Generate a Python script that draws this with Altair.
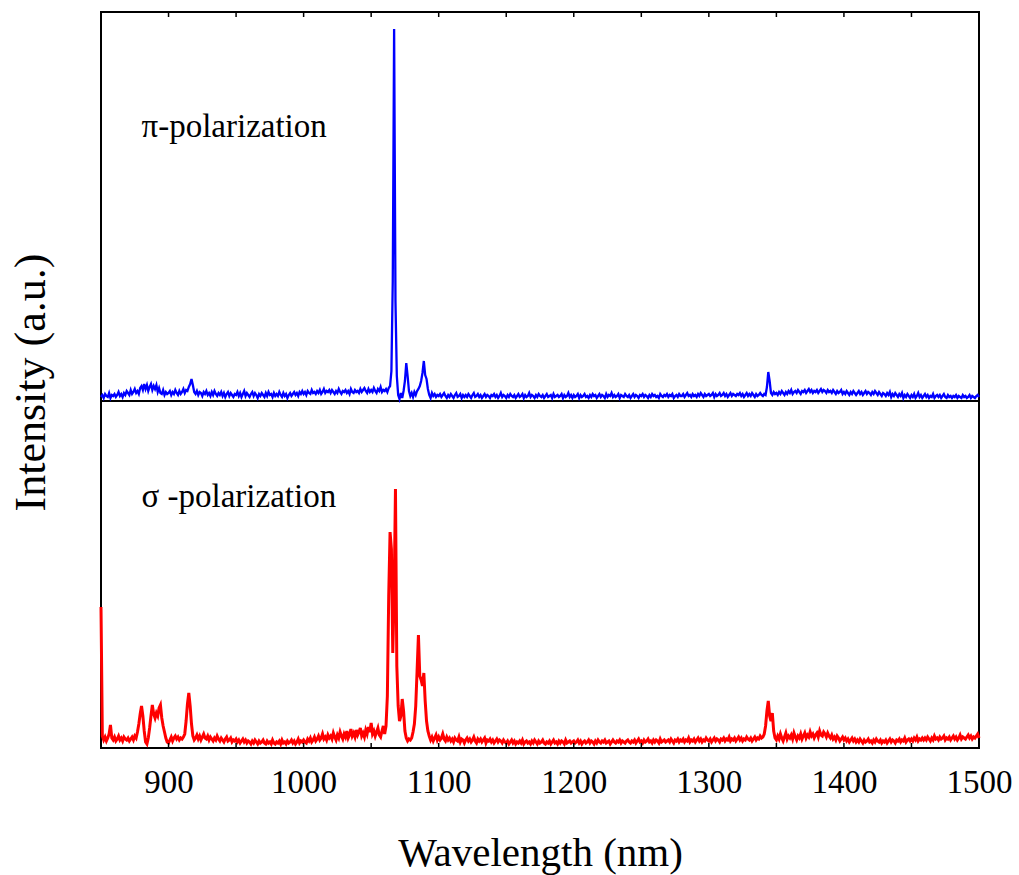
import altair as alt
import pandas as pd

# Wavelength sampling grid (nm)
wavelength = list(range(850, 1501))

# pi-polarization intensity (a.u.), one value per nm
pi_intensity = [
    4, 6, 3, 7, 5, 4, 8, 3, 6, 5,          # 850
    7, 4, 6, 9, 5, 7, 4, 8, 6, 10,         # 860
    8, 6, 11, 7, 9, 12, 8, 10, 7, 13,      # 870
    15, 11, 17, 12, 16, 10, 14, 17, 11, 15,  # 880
    12, 16, 9, 13, 8, 7, 11, 6, 9, 7,      # 890
    8, 10, 6, 9, 7, 11, 8, 6, 10, 7,       # 900
    9, 12, 8, 11, 10, 14, 17, 22, 16, 9,   # 910
    7, 10, 6, 9, 8, 5, 9, 7, 10, 6,        # 920
    8, 5, 9, 6, 10, 7, 5, 8, 6, 9,         # 930
    5, 8, 4, 7, 9, 5, 8, 6, 4, 7,          # 940
    6, 9, 5, 8, 4, 7, 10, 5, 8, 6,         # 950
    4, 7, 9, 5, 8, 6, 3, 7, 5, 8,          # 960
    6, 4, 8, 5, 9, 6, 7, 4, 8, 5,          # 970
    7, 5, 9, 6, 4, 8, 5, 7, 3, 6,          # 980
    8, 5, 7, 9, 6, 8, 5, 9, 7, 10,         # 990
    7, 9, 6, 10, 8, 7, 11, 8, 9, 7,        # 1000
    10, 8, 11, 7, 9, 12, 8, 10, 9, 11,     # 1010
    8, 11, 9, 7, 10, 8, 12, 9, 7, 10,      # 1020
    9, 11, 8, 10, 7, 12, 9, 8, 11, 9,      # 1030
    10, 8, 12, 9, 11, 13, 10, 8, 12, 9,    # 1040
    11, 9, 13, 10, 8, 12, 10, 14, 9, 11,   # 1050
    10, 12, 9, 13, 15, 30, 120, 372, 100, 25,  # 1060
    6, 2, 8, 3, 10, 20, 38, 25, 10, 5,     # 1070
    8, 4, 9, 6, 10, 12, 15, 20, 28, 40,    # 1080
    26, 22, 12, 6, 3, 8, 5, 7, 4, 6,       # 1090
    5, 7, 4, 6, 8, 5, 3, 6, 4, 7,          # 1100
    5, 3, 6, 8, 4, 5, 7, 3, 6, 4,          # 1110
    6, 4, 7, 5, 3, 6, 8, 4, 5, 7,          # 1120
    4, 6, 3, 5, 7, 4, 6, 5, 3, 6,          # 1130
    5, 7, 4, 6, 3, 5, 8, 4, 6, 5,          # 1140
    3, 6, 4, 7, 5, 4, 6, 3, 5, 7,          # 1150
    4, 5, 7, 3, 6, 4, 5, 8, 4, 6,          # 1160
    5, 3, 6, 4, 7, 5, 4, 6, 3, 5,          # 1170
    7, 4, 5, 6, 3, 7, 4, 5, 6, 4,          # 1180
    5, 7, 3, 6, 4, 5, 8, 4, 6, 3,          # 1190
    6, 4, 5, 7, 3, 6, 4, 5, 7, 4,          # 1200
    5, 3, 6, 4, 7, 5, 6, 3, 5, 7,          # 1210
    4, 6, 5, 3, 7, 4, 6, 5, 8, 4,          # 1220
    6, 4, 5, 7, 3, 6, 5, 4, 7, 5,          # 1230
    4, 6, 3, 5, 7, 4, 6, 5, 3, 6,          # 1240
    5, 7, 4, 6, 5, 3, 6, 4, 7, 5,          # 1250
    6, 4, 5, 3, 7, 5, 4, 6, 5, 7,          # 1260
    4, 6, 5, 7, 3, 5, 6, 4, 7, 5,          # 1270
    5, 7, 4, 6, 8, 5, 6, 4, 7, 5,          # 1280
    6, 4, 7, 5, 8, 6, 4, 7, 5, 6,          # 1290
    7, 5, 6, 8, 4, 7, 5, 6, 8, 5,          # 1300
    6, 8, 5, 7, 4, 6, 8, 5, 7, 6,          # 1310
    5, 7, 6, 8, 5, 7, 4, 6, 8, 5,          # 1320
    7, 5, 8, 6, 4, 7, 5, 6, 8, 6,          # 1330
    5, 7, 6, 14, 29, 20, 8, 6, 9, 7,       # 1340
    8, 6, 9, 7, 10, 8, 6, 9, 7, 10,        # 1350
    8, 11, 7, 9, 10, 8, 11, 9, 7, 10,      # 1360
    9, 11, 8, 10, 12, 9, 11, 8, 10, 9,     # 1370
    11, 8, 10, 12, 9, 11, 10, 8, 11, 9,    # 1380
    10, 8, 11, 9, 7, 10, 8, 9, 11, 7,      # 1390
    9, 7, 10, 8, 6, 9, 7, 10, 8, 6,        # 1400
    8, 10, 7, 9, 6, 8, 10, 7, 9, 8,        # 1410
    6, 9, 7, 10, 8, 6, 9, 7, 5, 8,         # 1420
    7, 5, 8, 6, 9, 4, 7, 5, 8, 6,          # 1430
    4, 7, 5, 8, 3, 6, 4, 7, 5, 3,          # 1440
    6, 4, 7, 3, 5, 8, 4, 6, 3, 5,          # 1450
    7, 4, 6, 3, 5, 4, 7, 3, 5, 6,          # 1460
    4, 6, 3, 5, 7, 4, 3, 6, 4, 5,          # 1470
    3, 5, 4, 6, 3, 5, 4, 3, 6, 4,          # 1480
    5, 3, 4, 6, 3, 5, 4, 3, 5, 6,          # 1490
    4,                                     # 1500
]

# sigma-polarization intensity (a.u.), one value per nm
sigma_intensity = [
    139, 10, 6, 9, 5, 8, 12, 21, 8, 6,     # 850
    9, 5, 7, 10, 6, 8, 5, 9, 7, 6,         # 860
    8, 5, 7, 9, 6, 10, 8, 14, 22, 32,      # 870
    40, 30, 15, 4, 2, 8, 18, 30, 41, 32,   # 880
    28, 33, 30, 38, 41, 28, 20, 14, 8, 4,  # 890
    3, 6, 9, 5, 8, 10, 7, 9, 6, 8,         # 900
    7, 9, 12, 25, 42, 53, 40, 22, 10, 6,   # 910
    8, 11, 7, 10, 6, 9, 12, 8, 7, 10,      # 920
    6, 9, 7, 5, 8, 6, 10, 7, 5, 8,         # 930
    6, 4, 7, 9, 5, 6, 8, 4, 6, 5,          # 940
    7, 4, 6, 3, 5, 7, 4, 6, 3, 5,          # 950
    4, 2, 5, 3, 6, 4, 2, 5, 3, 4,          # 960
    6, 3, 2, 5, 3, 4, 2, 6, 3, 2,          # 970
    4, 3, 5, 2, 6, 3, 4, 2, 5, 3,          # 980
    4, 6, 3, 5, 2, 4, 7, 3, 5, 4,          # 990
    6, 4, 3, 7, 5, 8, 4, 6, 9, 5,          # 1000
    7, 10, 6, 8, 12, 7, 9, 6, 11, 8,       # 1010
    10, 7, 13, 9, 6, 11, 8, 14, 10, 7,     # 1020
    12, 9, 15, 8, 11, 17, 10, 13, 9, 16,   # 1030
    11, 14, 18, 10, 13, 9, 16, 12, 19, 14,  # 1040
    23, 12, 15, 10, 14, 18, 11, 9, 15, 20,  # 1050
    12, 20, 50, 150, 214, 197, 93, 150, 257, 80,  # 1060
    40, 25, 30, 47, 35, 15, 8, 5, 7, 6,    # 1070
    8, 14, 22, 40, 75, 111, 70, 66, 60, 73,  # 1080
    45, 25, 15, 10, 6, 9, 5, 8, 11, 6,     # 1090
    9, 6, 8, 12, 7, 5, 9, 6, 8, 5,         # 1100
    7, 4, 8, 6, 5, 9, 4, 7, 6, 3,          # 1110
    6, 8, 5, 7, 4, 6, 9, 5, 3, 7,          # 1120
    5, 7, 4, 6, 8, 3, 6, 5, 7, 4,          # 1130
    6, 3, 5, 7, 4, 6, 5, 3, 6, 4,          # 1140
    3, 5, 2, 4, 6, 3, 5, 2, 4, 3,          # 1150
    5, 3, 6, 2, 4, 5, 3, 4, 2, 5,          # 1160
    3, 6, 4, 2, 5, 3, 4, 6, 3, 2,          # 1170
    4, 3, 5, 2, 4, 6, 3, 4, 2, 5,          # 1180
    3, 5, 4, 2, 6, 3, 4, 5, 3, 4,          # 1190
    5, 3, 4, 6, 3, 5, 2, 4, 5, 3,          # 1200
    4, 6, 3, 5, 4, 2, 5, 3, 6, 4,          # 1210
    3, 5, 4, 6, 3, 4, 5, 2, 4, 6,          # 1220
    4, 3, 5, 4, 6, 3, 5, 4, 3, 5,          # 1230
    6, 4, 3, 5, 4, 6, 3, 5, 7, 4,          # 1240
    5, 3, 6, 4, 5, 7, 4, 5, 3, 6,          # 1250
    4, 6, 5, 3, 7, 4, 5, 6, 4, 5,          # 1260
    6, 4, 7, 5, 3, 6, 5, 7, 4, 6,          # 1270
    5, 7, 4, 6, 5, 8, 4, 6, 5, 7,          # 1280
    4, 6, 8, 5, 7, 4, 6, 5, 8, 6,          # 1290
    5, 7, 4, 6, 8, 5, 7, 6, 4, 7,          # 1300
    6, 8, 5, 7, 6, 9, 5, 7, 6, 8,          # 1310
    5, 7, 9, 6, 8, 5, 7, 6, 9, 7,          # 1320
    6, 8, 5, 7, 9, 6, 8, 7, 10, 8,         # 1330
    9, 12, 20, 35, 45, 30, 25, 33, 15, 8,  # 1340
    6, 10, 7, 12, 8, 5, 9, 13, 7, 10,      # 1350
    8, 11, 7, 13, 9, 6, 10, 8, 12, 7,      # 1360
    10, 13, 8, 11, 9, 14, 10, 12, 8, 11,   # 1370
    13, 9, 15, 11, 10, 14, 12, 9, 13, 10,  # 1380
    8, 11, 7, 9, 6, 10, 8, 5, 7, 9,        # 1390
    6, 8, 5, 7, 4, 6, 8, 5, 7, 4,          # 1400
    6, 4, 7, 5, 3, 6, 4, 5, 7, 4,          # 1410
    5, 3, 6, 4, 7, 5, 4, 6, 3, 5,          # 1420
    4, 6, 3, 5, 7, 4, 6, 5, 3, 6,          # 1430
    5, 7, 4, 6, 5, 8, 4, 6, 7, 5,          # 1440
    7, 5, 8, 6, 9, 5, 7, 6, 8, 6,          # 1450
    8, 6, 9, 7, 5, 8, 6, 10, 7, 8,         # 1460
    6, 9, 7, 8, 10, 6, 8, 7, 9, 6,         # 1470
    8, 10, 7, 9, 6, 8, 11, 7, 9, 8,        # 1480
    7, 9, 11, 8, 10, 7, 9, 8, 10, 12,      # 1490
    8,                                     # 1500
]

tick_positions = list(range(850, 1501, 50))
label_values = [900, 1000, 1100, 1200, 1300, 1400, 1500]
series_labels = ["π-polarization", "σ -polarization"]

assert len(pi_intensity) == len(wavelength), len(pi_intensity)
assert len(sigma_intensity) == len(wavelength), len(sigma_intensity)

PI_OFFSET = 347      # vertical offset of the upper (pi) trace
SIGMA_OFFSET = 2     # vertical offset of the lower (sigma) trace
W, H = 878, 736
FONT = "Liberation Serif"

df_pi = pd.DataFrame({"wl": wavelength, "val": pi_intensity})
df_sigma = pd.DataFrame({"wl": wavelength, "val": sigma_intensity})
df_ticks = pd.DataFrame({"wl": tick_positions})
df_mid = pd.DataFrame({"y": [PI_OFFSET]})

xscale = alt.Scale(domain=[850, 1500], nice=False, zero=False)
yscale = alt.Scale(domain=[0, H], nice=False, zero=False)

xaxis = alt.Axis(
    values=label_values, format="d", ticks=False, tickSize=0, domain=False, grid=False,
    labelFont=FONT, labelFontSize=33, labelColor="black", labelPadding=18, labelFlush=False,
    title="Wavelength (nm)", titleFont=FONT, titleFontSize=41, titleFontWeight="normal",
    titleColor="black", titleX=W / 2, titleY=117, titleBaseline="alphabetic", titleAlign="center",
)
yaxis = alt.Axis(
    labels=False, ticks=False, domain=False, grid=False,
    title="Intensity (a.u.)", titleFont=FONT, titleFontSize=44, titleFontWeight="normal",
    titleColor="black", titleX=-70, titleY=370, titleAngle=270, titleAlign="center",
    titleBaseline="middle",
)

X = alt.X("wl:Q", scale=xscale, axis=xaxis)

mid_rule = alt.Chart(df_mid).mark_rule(color="black", strokeWidth=2).encode(
    y=alt.Y("y:Q", scale=yscale, axis=yaxis)
)

pi_line = alt.Chart(df_pi).transform_calculate(
    y=f"datum.val + {PI_OFFSET}"
).mark_line(color="#0000ff", strokeWidth=2.3).encode(
    x=X, y=alt.Y("y:Q", scale=yscale, axis=yaxis)
)

sigma_line = alt.Chart(df_sigma).transform_calculate(
    y=f"datum.val + {SIGMA_OFFSET}"
).mark_line(color="#ff0000", strokeWidth=3).encode(
    x=X, y=alt.Y("y:Q", scale=yscale, axis=yaxis)
)

top_ticks = alt.Chart(df_ticks).mark_rule(color="black", strokeWidth=1.5).encode(
    x=X, y=alt.value(0), y2=alt.value(5)
)
bottom_ticks = alt.Chart(df_ticks).mark_rule(color="black", strokeWidth=1.5).encode(
    x=X, y=alt.value(H), y2=alt.value(H - 5)
)

pi_text = alt.Chart(df_mid).mark_text(
    text=series_labels[0], font=FONT, fontSize=33, align="left", baseline="alphabetic", color="black"
).encode(x=alt.X(datum=880, scale=xscale), y=alt.Y(datum=611, scale=yscale))

sigma_text = alt.Chart(df_mid).mark_text(
    text=series_labels[1], font=FONT, fontSize=33, align="left", baseline="alphabetic", color="black"
).encode(x=alt.X(datum=880, scale=xscale), y=alt.Y(datum=241, scale=yscale))

chart = alt.layer(
    mid_rule, sigma_line, pi_line, top_ticks, bottom_ticks, pi_text, sigma_text
).properties(
    width=W, height=H,
    padding={"left": 101, "top": 12, "right": 40, "bottom": 127},
    autosize=alt.AutoSizeParams(type="none"),
    background="white",
).configure(
    font=FONT
).configure_view(
    stroke="black", strokeWidth=2
)

chart.save("out.html", embed_options={"renderer": "svg", "actions": False})
